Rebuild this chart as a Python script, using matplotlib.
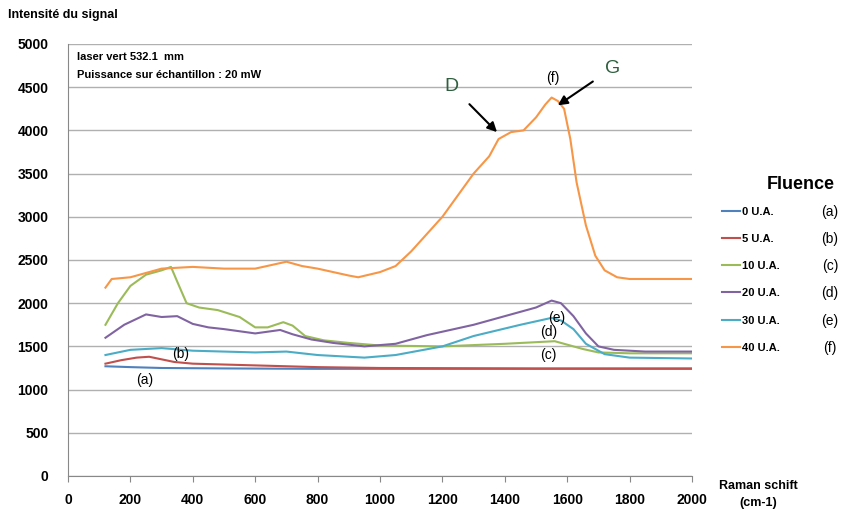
import matplotlib
matplotlib.use('Agg')
import matplotlib.pyplot as plt

# Raman spectra (x in cm-1, y = signal intensity)
x_a = [120, 200, 300, 500, 800, 1200, 1600, 2000]
y_a = [1270, 1260, 1250, 1245, 1240, 1240, 1240, 1240]

x_b = [120, 170, 220, 260, 300, 340, 400, 500, 600, 800, 1000, 1500, 2000]
y_b = [1300, 1340, 1370, 1380, 1350, 1320, 1300, 1290, 1280, 1260, 1250, 1245, 1245]

x_c = [120, 160, 200, 250, 300, 330, 350, 380, 420, 480, 550, 600, 640, 690, 720, 760,
       820, 900, 1000, 1200, 1400, 1560, 1600, 1650, 1700, 1800, 2000]
y_c = [1750, 2000, 2200, 2330, 2380, 2420, 2250, 2000, 1950, 1920, 1840, 1720, 1720, 1780, 1740, 1620,
       1570, 1540, 1510, 1500, 1530, 1560, 1520, 1470, 1430, 1420, 1420]

x_d = [120, 180, 250, 300, 350, 400, 450, 500, 600, 680, 720, 780, 850, 950, 1050, 1150,
       1300, 1400, 1500, 1550, 1580, 1620, 1660, 1700, 1750, 1850, 2000]
y_d = [1600, 1750, 1870, 1840, 1850, 1760, 1720, 1700, 1650, 1690, 1640, 1580, 1540, 1500, 1530, 1630,
       1750, 1850, 1950, 2030, 2000, 1850, 1650, 1500, 1460, 1440, 1440]

x_e = [120, 200, 300, 400, 500, 600, 700, 800, 900, 950, 1050, 1200, 1300, 1450, 1550,
       1580, 1620, 1660, 1720, 1800, 2000]
y_e = [1400, 1460, 1480, 1450, 1440, 1430, 1440, 1400, 1380, 1370, 1400, 1500, 1620, 1750, 1830,
       1800, 1700, 1530, 1410, 1370, 1360]

x_f = [120, 140, 200, 300, 400, 500, 600, 650, 700, 750, 800, 900, 930, 1000, 1050, 1100,
       1150, 1200, 1250, 1300, 1350, 1380, 1420, 1460, 1500, 1530, 1550, 1570, 1590, 1610,
       1630, 1660, 1690, 1720, 1760, 1800, 1900, 2000]
y_f = [2180, 2280, 2300, 2400, 2420, 2400, 2400, 2440, 2480, 2430, 2400, 2320, 2300, 2360, 2430, 2600,
       2800, 3000, 3250, 3500, 3700, 3900, 3980, 4000, 4150, 4300, 4380, 4340, 4250, 3900,
       3400, 2900, 2550, 2380, 2300, 2280, 2280, 2280]

series = [(x_a, y_a, '0 U.A.', '(a)', '#4F81BD'),
          (x_b, y_b, '5 U.A.', '(b)', '#C0504D'),
          (x_c, y_c, '10 U.A.', '(c)', '#9BBB59'),
          (x_d, y_d, '20 U.A.', '(d)', '#8064A2'),
          (x_e, y_e, '30 U.A.', '(e)', '#4BACC6'),
          (x_f, y_f, '40 U.A.', '(f)', '#F79646')]

plt.rcParams['font.family'] = ['Liberation Sans', 'DejaVu Sans']

fig = plt.figure(figsize=(8.47, 5.18), dpi=100)
ax = fig.add_axes([0.0803, 0.0811, 0.7367, 0.834])

for xs, ys, lab, letter, col in series:
    ax.plot(xs, ys, color=col, lw=1.5, label=lab)

ax.set_xlim(0, 2000)
ax.set_ylim(0, 5000)
ax.set_xticks(range(0, 2001, 200))
ax.set_yticks(range(0, 5001, 500))
ax.yaxis.grid(True, color='#b0b0b0', lw=1)
ax.set_axisbelow(True)
for s in ['top', 'right']:
    ax.spines[s].set_visible(False)
for s in ['left', 'bottom']:
    ax.spines[s].set_color('#888888')
ax.tick_params(axis='y', length=0, pad=14, labelsize=10)
ax.tick_params(axis='x', direction='out', length=4, color='#888888', pad=8, labelsize=10)
for t in ax.get_xticklabels() + ax.get_yticklabels():
    t.set_fontweight('bold')

fig.text(0.009, 0.972, 'Intensité du signal', fontsize=9, fontweight='bold', va='center')
fig.text(0.895, 0.045, 'Raman schift\n(cm-1)', fontsize=9, fontweight='bold',
         ha='center', va='center', linespacing=1.6)

ax.text(30, 4850, 'laser vert 532.1  mm', fontsize=8, fontweight='bold', va='center')
ax.text(30, 4640, 'Puissance sur échantillon : 20 mW', fontsize=8, fontweight='bold', va='center')

# peak labels
ax.annotate('D', xy=(1375, 3980), xytext=(1230, 4510), fontsize=14, color='#2f5f3f',
            ha='center', va='center',
            arrowprops=dict(arrowstyle='-|>', color='black', lw=1.5, shrinkA=8, shrinkB=0))
ax.annotate('G', xy=(1570, 4290), xytext=(1745, 4720), fontsize=14, color='#2f5f3f',
            ha='center', va='center',
            arrowprops=dict(arrowstyle='-|>', color='black', lw=1.5, shrinkA=8, shrinkB=0))
ax.text(1555, 4610, '(f)', fontsize=10, ha='center', va='center')
ax.text(1567, 1830, '(e)', fontsize=10, ha='center', va='center')
ax.text(1542, 1670, '(d)', fontsize=10, ha='center', va='center')
ax.text(1538, 1400, '(c)', fontsize=10, ha='center', va='center')
ax.text(362, 1410, '(b)', fontsize=10, ha='center', va='center')
ax.text(247, 1110, '(a)', fontsize=10, ha='center', va='center')

# legend: title and letters placed as separate texts
fig.text(0.945, 0.643, 'Fluence', fontsize=13, fontweight='bold', ha='center', va='center')
leg = fig.legend(loc='upper left', bbox_to_anchor=(0.853, 0.601), frameon=False,
                 fontsize=8, handlelength=1.6, handletextpad=0.2, labelspacing=1.55,
                 borderaxespad=0, borderpad=0)
for t in leg.get_texts():
    t.set_fontweight('bold')

fig.canvas.draw()
inv = fig.transFigure.inverted()
for t, (_, _, _, letter, _) in zip(leg.get_texts(), series):
    bb = t.get_window_extent()
    yc = inv.transform(((bb.x0 + bb.x1) / 2, (bb.y0 + bb.y1) / 2))[1]
    fig.text(0.98, yc, letter, fontsize=10, ha='center', va='center')

fig.savefig('out.png', dpi=100)
